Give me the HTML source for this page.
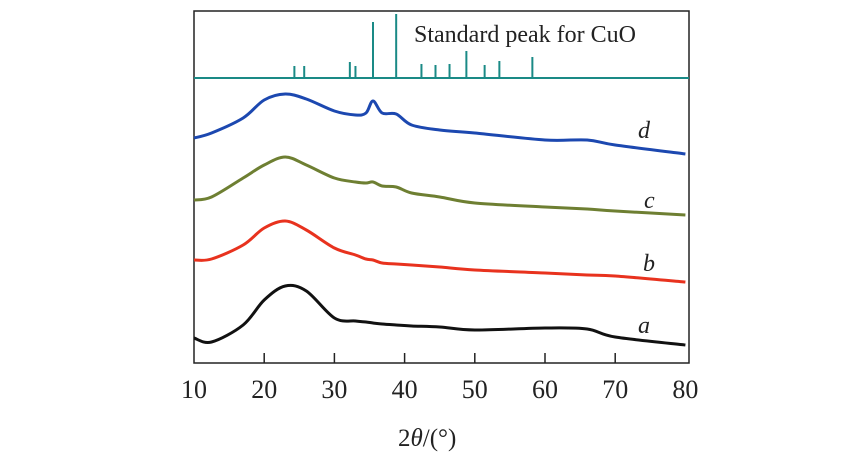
<!DOCTYPE html>
<html><head><meta charset="utf-8"><style>
body{margin:0;background:#fff;}
svg{display:block;font-family:"Liberation Serif",serif;}
</style></head><body>
<svg id="chart" width="850" height="470">
<rect x="194" y="11" width="495" height="352" fill="none" stroke="#222" stroke-width="1.5"/>
<line x1="194" y1="78" x2="689" y2="78" stroke="#1a8a86" stroke-width="2"/>
<text x="414" y="42" font-size="24" fill="#222">Standard peak for CuO</text>
<g id="refs"></g><g id="curves"></g><g id="axis"></g>
<text x="398" y="446" font-size="25" fill="#222">2<tspan font-style="italic">θ</tspan>/(°)</text>
</svg>
<script>
const tickLabels=[10,20,30,40,50,60,70,80];
const refAngles=[24.3,25.7,32.2,33.0,35.5,38.8,42.4,44.4,46.4,48.8,51.4,53.5,58.2];
const refHeights=[12,12,16,12,56,64,14,13,14,27,13,17,21];
const angles=[10,12.5,17,20,23,26,30,33,34.5,35.5,36.8,38.8,41,45,50,60,66,70,80];
const seriesA=[25,21,38,63,77,72,45,42,41,40,39,38,37,36,33,35,34,26,18];
const seriesB=[103,104,118,135,142,133,115,108,104,103,100,99,98,96,93,90,88,87,81];
const seriesC=[163,166,185,198,206,198,185,181,180,181,177,176,170,166,160,156,154,152,148];
const seriesD=[225,230,245,263,269,264,252,248,250,262,250,249,238,233,230,223,223,218,209];
const names=['a','b','c','d'];
const colors=['#111','#e8321e','#6e7f32','#1c48b0'];
const allSeries=[seriesA,seriesB,seriesC,seriesD];
const labelPos=[[638,333],[643,271],[644,208],[638,138]];
const ns='http://www.w3.org/2000/svg';
const X=v=>194+(v-10)*7.02;
const Y=v=>363-v;
function mk(t,a,p){const e=document.createElementNS(ns,t);for(const k in a)e.setAttribute(k,a[k]);p.appendChild(e);return e;}
const refs=document.getElementById('refs');
refAngles.forEach((a,i)=>{const l=mk('line',{x1:X(a),x2:X(a),y1:78,y2:78-refHeights[i],stroke:'#1a8a86','stroke-width':2},refs);

});
const axis=document.getElementById('axis');
tickLabels.forEach(t=>{
 if(t>10&&t<80){const l=mk('line',{x1:X(t),x2:X(t),y1:363,y2:353,stroke:'#222','stroke-width':1.5},axis);
 
 }
 const tx=mk('text',{x:X(t),y:398,'font-size':26,'text-anchor':'middle',fill:'#222'},axis);tx.textContent=t;
 
 });
const cg=document.getElementById('curves');
allSeries.forEach((s,i)=>{
 const pts=angles.map((a,j)=>[X(a),Y(s[j])]);
 let d='M'+pts[0][0]+','+pts[0][1];
 for(let j=0;j<pts.length-1;j++){
  const p0=pts[Math.max(j-1,0)],p1=pts[j],p2=pts[j+1],p3=pts[Math.min(j+2,pts.length-1)];
  const c1x=p1[0]+(p2[0]-p0[0])/6,c1y=p1[1]+(p2[1]-p0[1])/6;
  const c2x=p2[0]-(p3[0]-p1[0])/6,c2y=p2[1]-(p3[1]-p1[1])/6;
  d+=` C${c1x},${c1y} ${c2x},${c2y} ${p2[0]},${p2[1]}`;}
 const p=mk('path',{d:d,fill:'none',stroke:colors[i],'stroke-width':3,'stroke-linejoin':'round'},cg);
 
 
 const t=mk('text',{x:labelPos[i][0],y:labelPos[i][1],'font-size':24,'font-style':'italic',fill:'#222'},cg);t.textContent=names[i];
 
 
});
</script>
</body></html>
